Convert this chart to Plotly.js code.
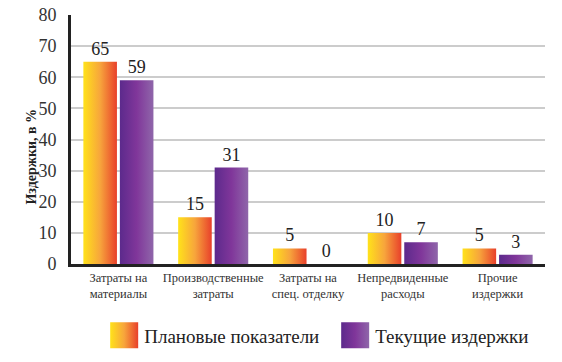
<!DOCTYPE html>
<html><head><meta charset="utf-8">
<script src="https://cdn.plot.ly/plotly-3.0.1.min.js"></script>
<style>html,body{margin:0;padding:0;background:#fff}
#chart text{font-family:'Liberation Serif','Times New Roman',serif !important;}</style>
</head><body>
<div id="chart" style="width:562px;height:362px"></div>
<script>
var categories = ["Затраты на<br>материалы","Производственные<br>затраты","Затраты на<br>спец. отделку","Непредвиденные<br>расходы","Прочие<br>издержки"];
var planned = [65, 15, 5, 10, 5];
var current = [59, 31, 0, 7, 3];
var seriesNames = ["Плановые показатели", "Текущие издержки"];
var yTicks = [0,10,20,30,40,50,60,70,80];

var serif = "Liberation Serif";
var traces = [
  {type:'bar', x:categories, y:planned, name:seriesNames[0], marker:{color:'#F39035'},
   text:planned.map(String), textposition:'outside', cliponaxis:false,
   textfont:{family:serif,size:18,color:'#222'}},
  {type:'bar', x:categories, y:current, name:seriesNames[1], marker:{color:'#7A3A98'},
   text:current.map(String), textposition:'outside', cliponaxis:false,
   textfont:{family:serif,size:18,color:'#222'}}
];
var layout = {
  width:562, height:362,
  font:{family:serif},
  margin:{l:71,r:17,t:15,b:98, autoexpand:false},
  paper_bgcolor:'#fff', plot_bgcolor:'#fff',
  barmode:'group', bargap:0.23, bargroupgap:0.08,
  showlegend:true,
  legend:{orientation:'h', x:0.07, xanchor:'left', y:-0.21, yanchor:'top',
          font:{family:serif,size:19,color:'#222'}, itemwidth:30, entrywidth:186,
          traceorder:'normal'},
  xaxis:{showline:true, linecolor:'#222', linewidth:3, ticks:'',
         tickfont:{family:serif,size:12.5,color:'#333'}, fixedrange:true},
  yaxis:{range:[0,80], tickvals:yTicks, showgrid:true, gridcolor:'#cccccc', gridwidth:2,
         showline:true, linecolor:'#222', linewidth:3, zeroline:false, ticks:'',
         ticklabelstandoff:8,
         tickfont:{family:serif,size:18,color:'#333'}},
  annotations:[{text:'<b>Издержки, в %</b>', xref:'paper', yref:'paper', x:-0.103, y:0.43,
    textangle:-90, showarrow:false, font:{family:serif,size:14,color:'#222'}}]
};
function forceSerif(gd){
  gd.querySelectorAll('text, tspan').forEach(function(t){
    t.style.setProperty('font-family', "'Liberation Serif', 'Times New Roman', serif", 'important');
    t.setAttribute('font-family', "Liberation Serif");
  });
}
Plotly.newPlot('chart', traces, layout, {displayModeBar:false}).then(function(gd){
  var svg = gd.querySelector('svg.main-svg');
  var ns = 'http://www.w3.org/2000/svg';
  var defs = document.createElementNS(ns,'defs');
  function grad(id, stops){
    var g = document.createElementNS(ns,'linearGradient');
    g.setAttribute('id',id); g.setAttribute('x1','0'); g.setAttribute('x2','1');
    g.setAttribute('y1','0'); g.setAttribute('y2','0');
    stops.forEach(function(s){
      var st = document.createElementNS(ns,'stop');
      st.setAttribute('offset',s[0]); st.setAttribute('stop-color',s[1]);
      g.appendChild(st);
    });
    defs.appendChild(g);
  }
  grad('gOr',[['0','#FFE21A'],['0.5','#F7A53C'],['1','#E8402B']]);
  grad('gPu',[['0','#5C2A8C'],['0.5','#80369A'],['1','#8F66AA']]);
  svg.insertBefore(defs, svg.firstChild);
  var ids = ['gOr','gPu'];
  gd.querySelectorAll('.barlayer .trace.bars').forEach(function(t,i){
    t.querySelectorAll('.point path').forEach(function(p){
      p.style.fill = 'url(#'+ids[i]+')';
    });
  });
  var allSvgs = gd.querySelectorAll('svg');
  gd.querySelectorAll('.legend .traces').forEach(function(t,i){
    t.querySelectorAll('.legendpoints path').forEach(function(p){
      p.style.fill = 'url(#'+ids[i]+')';
      p.setAttribute('d','M14,13H-14V-13H14Z');
    });
  });
  allSvgs.forEach(function(s){ if(s!==svg){ s.insertBefore(defs.cloneNode(true), s.firstChild);} });
  forceSerif(gd);
  requestAnimationFrame(function(){ forceSerif(gd); });
});
</script>
</body></html>
